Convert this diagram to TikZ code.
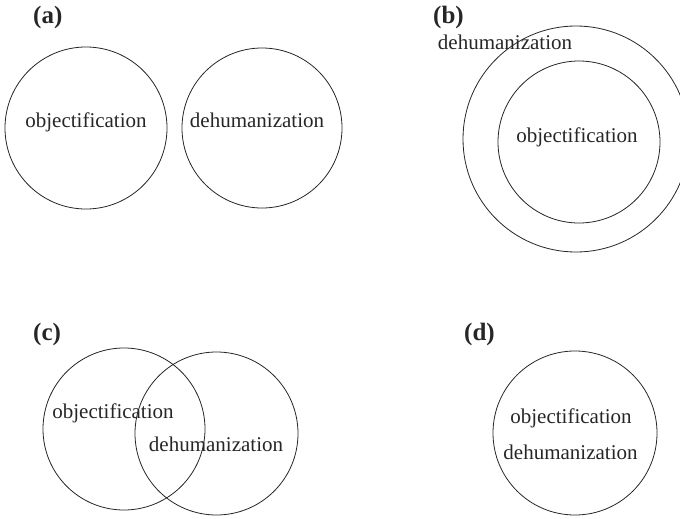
\documentclass[tikz,border=0pt]{standalone}
\usepackage{fontspec}
\setmainfont{Liberation Serif}
\begin{document}
\begin{tikzpicture}[x=1pt,y=-1pt,
  setring/.style={draw=black!85, line width=0.8pt, circle, inner sep=0pt, minimum size=#1},
  word/.style={anchor=base, inner sep=0pt, text=black!85, font=\fontsize{21}{24}\selectfont},
  panel/.style={anchor=base west, inner sep=0pt, text=black!85, font=\fontsize{25}{28}\selectfont\bfseries}]
\useasboundingbox (0,0) rectangle (680,519);
\clip (0,0) rectangle (680,519);

% (a) two disjoint sets
\node[panel] (la) at (33,24) {(a)};
\node[setring=162pt] (aobj) at (86,128) {};
\node[setring=160pt] (adeh) at (262,128) {};
\node[word] (taobj) at (86,127) {objectification};
\node[word] (tadeh) at (257,127) {dehumanization};

% (b) objectification inside dehumanization
\node[panel] (lb) at (433,24) {(b)};
\node[setring=226pt] (bdeh) at (576,139) {};
\node[setring=162pt] (bobj) at (579,142) {};
\node[word] (tbdeh) at (505,50) {dehumanization};
\node[word] (tbobj) at (577,142) {objectification};

% (c) overlapping sets
\node[panel] (lc) at (33,340) {(c)};
\node[setring=162pt] (cobj) at (124,429) {};
\node[setring=163pt] (cdeh) at (216.5,433.5) {};
\node[word] (tcobj) at (113,418) {objectification};
\node[word] (tcdeh) at (216,451) {dehumanization};

% (d) identical sets
\node[panel] (ld) at (464,340) {(d)};
\node[setring=164pt] (dset) at (575,433) {};
\node[word] (tdobj) at (571,423) {objectification};
\node[word] (tddeh) at (570.5,459) {dehumanization};
\end{tikzpicture}
\end{document}
